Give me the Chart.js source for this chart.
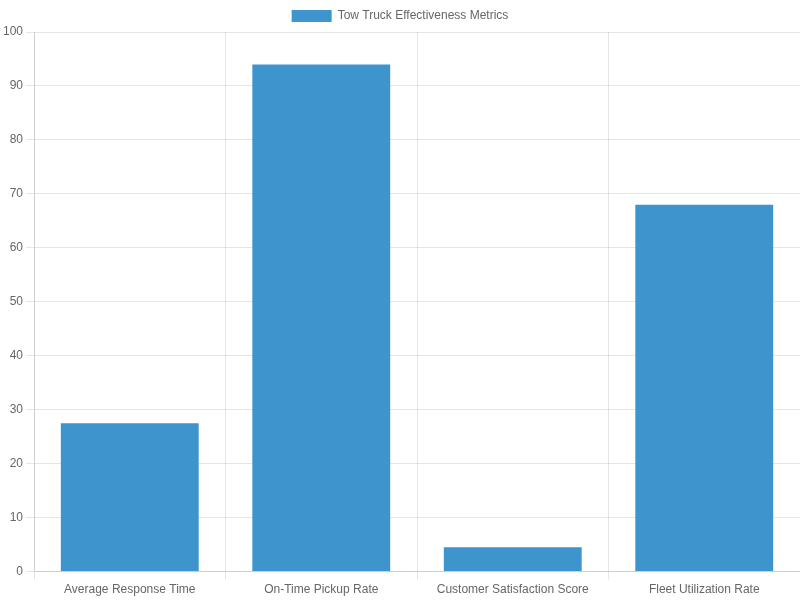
<!DOCTYPE html>
<html>
<head>
<meta charset="utf-8">
<script src="https://cdn.jsdelivr.net/npm/chart.js@4"></script>
<style>
  html, body { margin: 0; padding: 0; background: #fff; }
  #wrap { width: 800px; height: 600px; }
</style>
</head>
<body>
<div id="wrap"><canvas id="chart"></canvas></div>
<script>
const categories = ['Average Response Time', 'On-Time Pickup Rate', 'Customer Satisfaction Score', 'Fleet Utilization Rate'];
const seriesLabel = 'Tow Truck Effectiveness Metrics';
const seriesValues = [27.5, 94, 4.5, 68];

Chart.defaults.font.family = '"Liberation Sans", Arial, sans-serif';
Chart.defaults.color = '#666';

new Chart(document.getElementById('chart').getContext('2d'), {
    type: 'bar',
    data: {
        labels: categories,
        datasets: [{
            label: seriesLabel,
            data: seriesValues,
            backgroundColor: '#3e95cd',
            borderWidth: 0
        }]
    },
    options: {
        responsive: true,
        maintainAspectRatio: false,
        animation: false,
        plugins: { legend: { display: true, position: 'top' } },
        scales: {
            y: { beginAtZero: true, max: 100, ticks: { stepSize: 10 } }
        }
    }
});
</script>
</body>
</html>
